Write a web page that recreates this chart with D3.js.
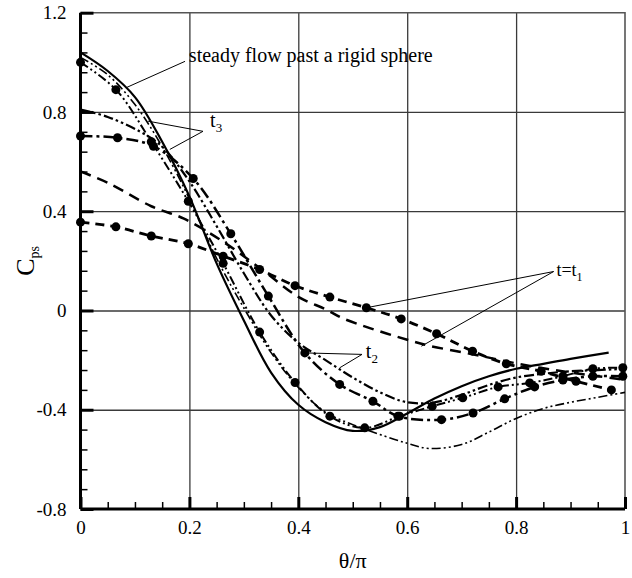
<!DOCTYPE html>
<html lang="en">
<head>
    <meta charset="UTF-8">
    <title>Cps vs theta/pi</title>
    <script src="https://d3js.org/d3.v7.min.js"></script>
    <style>
        body { margin: 0; background: #fff; }
    </style>
</head>
<body>
    <div id="chart"></div>

    <script>
        // Tick labels
        const xTicks = [0, 0.2, 0.4, 0.6, 0.8, 1];
        const yTicks = [-0.8, -0.4, 0, 0.4, 0.8, 1.2];

        // Steady flow past a rigid sphere (solid)
        const steadyX = [0, 0.05, 0.1, 0.15, 0.2, 0.25, 0.3, 0.35, 0.4, 0.45, 0.5, 0.55, 0.6, 0.65, 0.7, 0.75, 0.8, 0.85, 0.9, 0.97];
        const steadyY = [1.04, 0.965, 0.86, 0.68, 0.46, 0.19, -0.04, -0.25, -0.38, -0.45, -0.485, -0.47, -0.415, -0.355, -0.305, -0.265, -0.235, -0.215, -0.195, -0.17];

        // dash-dot-dot, no markers (deep minimum)
        const aX = [0, 0.05, 0.1, 0.15, 0.2, 0.25, 0.3, 0.35, 0.4, 0.45, 0.5, 0.55, 0.6, 0.64, 0.7, 0.75, 0.8, 0.85, 0.9, 0.95, 1.0];
        const aY = [1.02, 0.95, 0.83, 0.66, 0.45, 0.21, 0.01, -0.17, -0.31, -0.41, -0.46, -0.5, -0.535, -0.556, -0.54, -0.49, -0.435, -0.395, -0.37, -0.35, -0.33];

        // starts at 1.0, with markers
        const bX = [0, 0.065, 0.13, 0.198, 0.262, 0.329, 0.394, 0.458, 0.522, 0.586, 0.646, 0.702, 0.767, 0.825, 0.886, 0.941, 0.996];
        const bY = [1.0, 0.89, 0.68, 0.44, 0.19, -0.087, -0.29, -0.426, -0.473, -0.426, -0.386, -0.352, -0.308, -0.292, -0.265, -0.235, -0.231];

        // starts at 0.8, no markers
        const cX = [0, 0.05, 0.11, 0.15, 0.2, 0.25, 0.3, 0.35, 0.4, 0.45, 0.5, 0.55, 0.6, 0.65, 0.7, 0.75, 0.8, 0.85, 0.9, 0.95, 1.0];
        const cY = [0.81, 0.78, 0.72, 0.66, 0.52, 0.34, 0.15, -0.02, -0.13, -0.2, -0.27, -0.33, -0.37, -0.37, -0.34, -0.3, -0.27, -0.255, -0.245, -0.24, -0.235];

        // starts at 0.7, with markers
        const dX = [0, 0.068, 0.134, 0.207, 0.276, 0.345, 0.412, 0.476, 0.537, 0.583, 0.663, 0.721, 0.779, 0.834, 0.886, 0.941, 0.996];
        const dY = [0.703, 0.696, 0.662, 0.532, 0.309, 0.058, -0.171, -0.298, -0.366, -0.426, -0.44, -0.413, -0.356, -0.308, -0.28, -0.265, -0.265];

        // t = t1, dashed, no markers
        const eX = [0, 0.05, 0.13, 0.19, 0.26, 0.33, 0.4, 0.45, 0.48, 0.53, 0.6, 0.64, 0.7, 0.75, 0.8, 0.85, 0.9, 0.95, 1.0];
        const eY = [0.56, 0.515, 0.42, 0.37, 0.28, 0.17, 0.055, 0.005, -0.03, -0.07, -0.118, -0.142, -0.168, -0.19, -0.213, -0.233, -0.25, -0.265, -0.28];

        // t = t1, dashed, with markers
        const fX = [0, 0.065, 0.13, 0.198, 0.262, 0.329, 0.394, 0.458, 0.525, 0.589, 0.654, 0.72, 0.782, 0.846, 0.91, 0.975];
        const fY = [0.356, 0.337, 0.30, 0.269, 0.219, 0.165, 0.10, 0.054, 0.011, -0.034, -0.094, -0.164, -0.215, -0.245, -0.285, -0.32];

        const width = 632;
        const height = 578;
        const margin = { top: 12.7, right: 7, bottom: 69, left: 80.5 };
        const serif = "Liberation Serif, Times New Roman, serif";

        const svg = d3.select("#chart")
            .append("svg")
            .attr("width", width)
            .attr("height", height)
            .attr("font-family", serif);

        const x = d3.scaleLinear().domain([0, 1]).range([margin.left, width - margin.right]);
        const y = d3.scaleLinear().domain([-0.8, 1.2]).range([height - margin.bottom, margin.top]);
        const plotH = y(-0.8) - y(1.2);
        const plotW = x(1) - x(0);

        // grid
        svg.append("g")
            .attr("transform", `translate(0,${y(-0.8)})`)
            .call(d3.axisBottom(x).tickValues([0.2, 0.4, 0.6, 0.8]).tickSize(-plotH).tickFormat(""))
            .call(g => g.select(".domain").remove())
            .selectAll("line").attr("stroke", "#3a3a3a").attr("stroke-width", 1.3);

        svg.append("g")
            .attr("transform", `translate(${x(0)},0)`)
            .call(d3.axisLeft(y).tickValues([-0.4, 0, 0.4, 0.8]).tickSize(-plotW).tickFormat(""))
            .call(g => g.select(".domain").remove())
            .selectAll("line").attr("stroke", "#3a3a3a").attr("stroke-width", 1.3);

        // frame top / right
        svg.append("path")
            .attr("d", `M${x(0)},${y(1.2)}H${x(1)}V${y(-0.8)}`)
            .attr("fill", "none")
            .attr("stroke", "#555")
            .attr("stroke-width", 1.6);

        // curves
        const line = d3.line()
            .x(d => x(d[0]))
            .y(d => y(d[1]))
            .curve(d3.curveCatmullRom.alpha(0.5));

        const series = [
            { xs: aX, ys: aY, dash: "9,3,2,3,2,3", w: 1.6, markers: false },
            { xs: cX, ys: cY, dash: "10,3,2.5,3,2.5,3", w: 2.2, markers: false },
            { xs: eX, ys: eY, dash: "11,7", w: 2.5, markers: false },
            { xs: fX, ys: fY, dash: "9,6", w: 2.8, markers: true },
            { xs: dX, ys: dY, dash: "12,4,3,4", w: 2.5, markers: true },
            { xs: bX, ys: bY, dash: "9,3,2,3,2,3", w: 2.0, markers: true },
            { xs: steadyX, ys: steadyY, dash: null, w: 2.2, markers: false }
        ];

        series.forEach(s => {
            const pts = s.xs.map((v, i) => [v, s.ys[i]]);
            svg.append("path")
                .datum(pts)
                .attr("d", line)
                .attr("fill", "none")
                .attr("stroke", "#000")
                .attr("stroke-width", s.w)
                .attr("stroke-dasharray", s.dash);
            if (s.markers) {
                svg.append("g")
                    .selectAll("circle")
                    .data(pts)
                    .enter()
                    .append("circle")
                    .attr("cx", d => x(d[0]))
                    .attr("cy", d => y(d[1]))
                    .attr("r", 4.5)
                    .attr("fill", "#000");
            }
        });

        // minor ticks
        const yMinor = d3.range(-0.8, 1.2001, 0.08).filter(v => Math.abs(v / 0.4 - Math.round(v / 0.4)) > 0.01);
        svg.append("g")
            .attr("transform", `translate(${x(0)},0)`)
            .call(d3.axisLeft(y).tickValues(yMinor).tickSize(-7).tickFormat(""))
            .call(g => g.select(".domain").remove())
            .selectAll("line").attr("stroke", "#000").attr("stroke-width", 1.5);

        const xMinor = d3.range(0, 1.0001, 0.05).filter(v => Math.abs(v / 0.2 - Math.round(v / 0.2)) > 0.01);
        svg.append("g")
            .attr("transform", `translate(0,${y(-0.8)})`)
            .call(d3.axisBottom(x).tickValues(xMinor).tickSize(-7).tickFormat(""))
            .call(g => g.select(".domain").remove())
            .selectAll("line").attr("stroke", "#000").attr("stroke-width", 1.5);

        // main axes (plain hyphen for negatives, as in the original)
        const fmt = d => String(d);

        const yAxis = svg.append("g")
            .attr("transform", `translate(${x(0)},0)`)
            .call(d3.axisLeft(y).tickValues(yTicks).tickSize(-13).tickPadding(14).tickFormat(fmt))
            .attr("font-family", serif)
            .attr("font-size", 19);
        yAxis.select(".domain").attr("stroke-width", 3).attr("d", `M0,${y(1.2)}V${y(-0.8)}`);
        yAxis.selectAll("line").attr("stroke-width", 3);

        const xAxis = svg.append("g")
            .attr("transform", `translate(0,${y(-0.8)})`)
            .call(d3.axisBottom(x).tickValues(xTicks).tickSize(-12).tickPadding(12).tickFormat(fmt))
            .attr("font-family", serif)
            .attr("font-size", 19);
        xAxis.select(".domain").attr("stroke-width", 3).attr("d", `M${x(0)},0H${x(1)}`);
        xAxis.selectAll("line").attr("stroke-width", 3);

        // axis titles
        svg.append("text")
            .attr("x", x(0.5))
            .attr("y", 568)
            .attr("text-anchor", "middle")
            .attr("font-size", 22)
            .text("θ/π");

        const yt = svg.append("text")
            .attr("transform", `translate(34,${y(0.2)}) rotate(-90)`)
            .attr("text-anchor", "middle")
            .attr("font-size", 26);
        yt.append("tspan").text("C");
        yt.append("tspan").attr("font-size", 14).attr("dy", 5).text("ps");

        // annotations
        function pointer(from, to) {
            svg.append("line")
                .attr("x1", x(from[0])).attr("y1", y(from[1]))
                .attr("x2", x(to[0])).attr("y2", y(to[1]))
                .attr("stroke", "#000").attr("stroke-width", 1);
        }

        svg.append("text")
            .attr("x", x(0.199)).attr("y", y(1.0))
            .attr("font-size", 20)
            .text("steady flow past a rigid sphere");
        pointer([0.192, 1.004], [0.085, 0.899]);

        const t3 = svg.append("text").attr("x", x(0.238)).attr("y", y(0.738)).attr("font-size", 20);
        t3.append("tspan").text("t");
        t3.append("tspan").attr("font-size", 13).attr("dy", 5).text("3");
        pointer([0.225, 0.722], [0.124, 0.763]);
        pointer([0.225, 0.722], [0.164, 0.649]);

        const t2 = svg.append("text").attr("x", x(0.524)).attr("y", y(-0.19)).attr("font-size", 20);
        t2.append("tspan").text("t");
        t2.append("tspan").attr("font-size", 13).attr("dy", 5).text("2");
        pointer([0.517, -0.177], [0.412, -0.171]);
        pointer([0.517, -0.177], [0.476, -0.231]);

        const t1 = svg.append("text").attr("x", x(0.874)).attr("y", y(0.137)).attr("font-size", 18);
        t1.append("tspan").text("t=t");
        t1.append("tspan").attr("font-size", 12).attr("dy", 5).text("1");
        pointer([0.869, 0.157], [0.525, 0.011]);
        pointer([0.869, 0.157], [0.626, -0.144]);
    </script>
</body>
</html>
